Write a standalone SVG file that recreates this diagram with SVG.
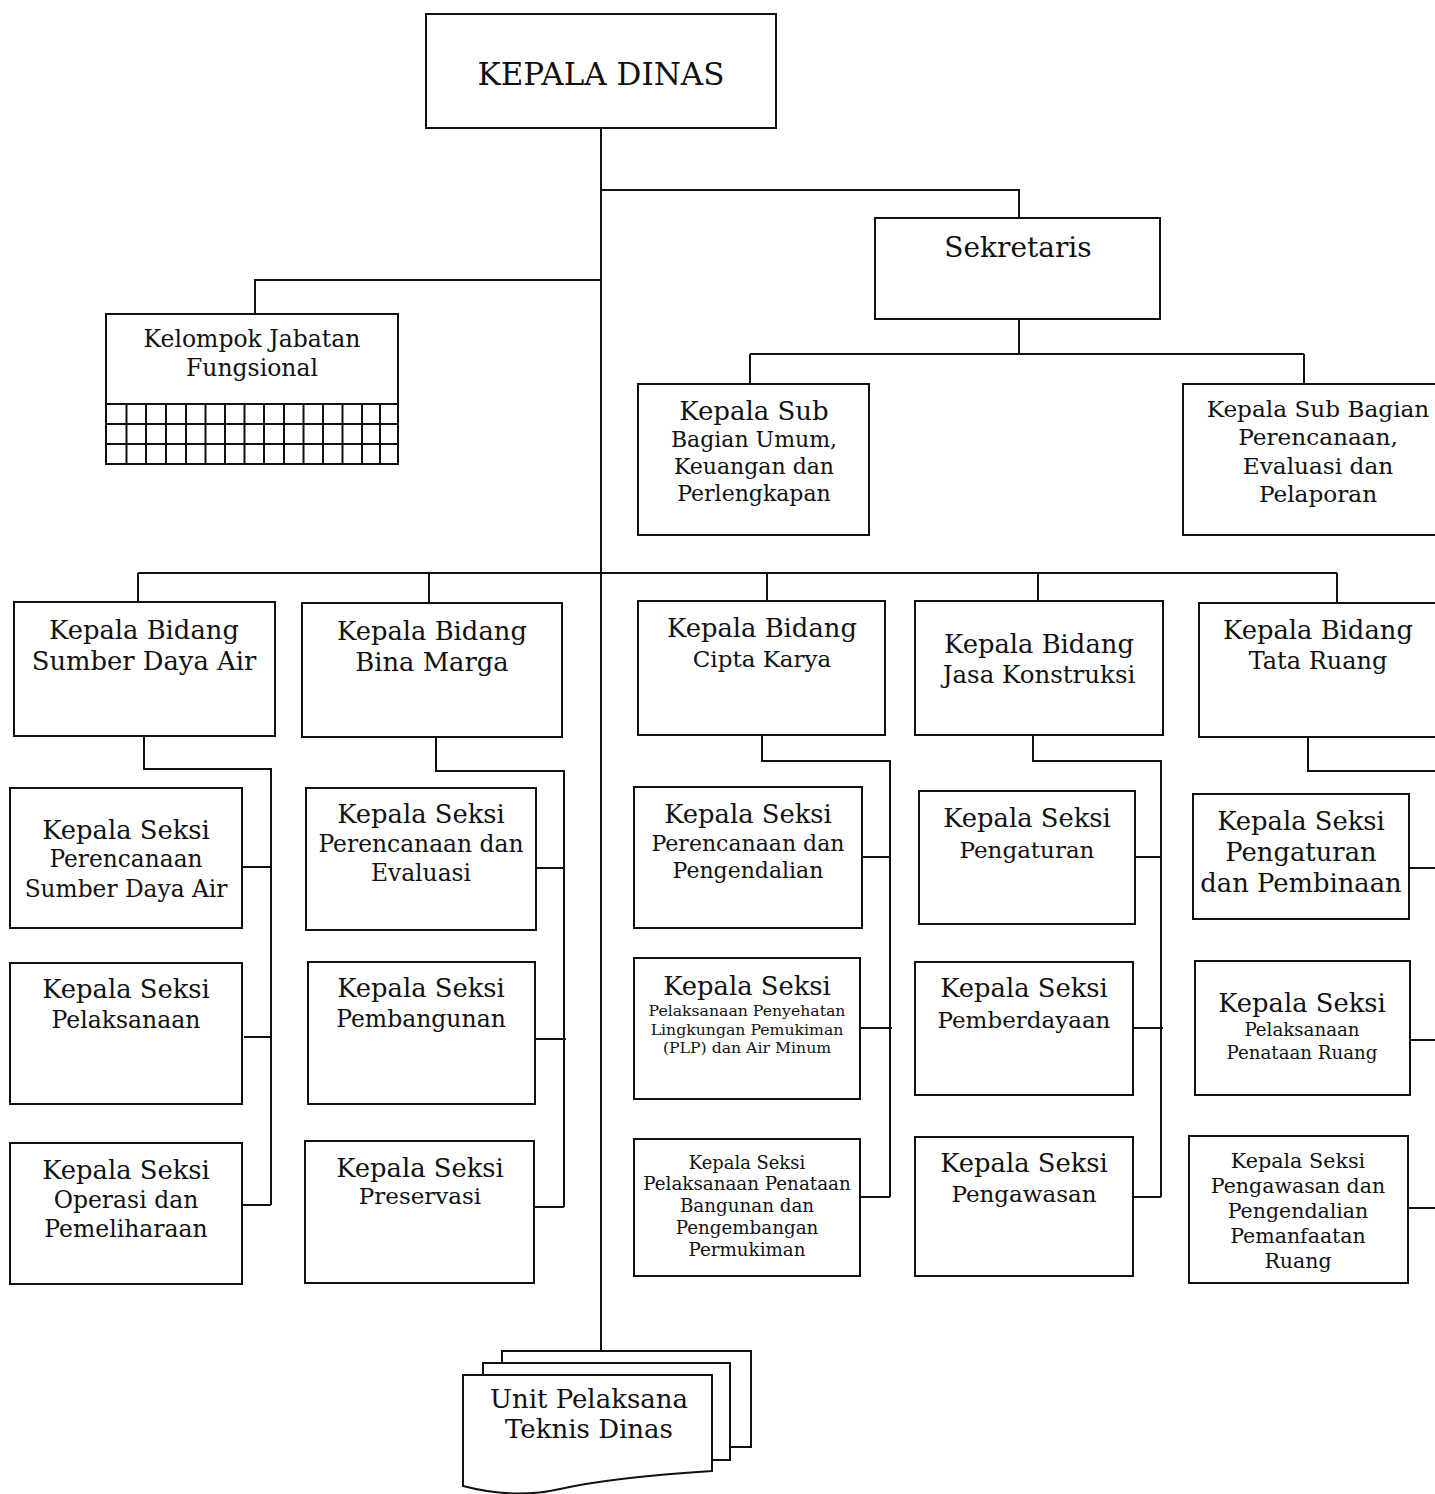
<svg xmlns="http://www.w3.org/2000/svg" width="1435" height="1494" viewBox="0 0 1435 1494">
<style>
rect,.doc{fill:#fff;stroke:#111;stroke-width:2}
#connectors path{fill:none;stroke:#111;stroke-width:2}
.grid{fill:none;stroke:#111;stroke-width:2}
text{font-family:"DejaVu Serif","Liberation Serif",serif;fill:#111;text-anchor:middle}
</style>
<rect x="0" y="0" width="1435" height="1494" style="stroke:none"/>
<g id="connectors">
<path d="M601,128 V1351"/>
<path d="M600,190 H1019 V218"/>
<path d="M600,280 H255 V314"/>
<path d="M1019,319 V354 M750,354 H1304 M750,354 V384 M1304,354 V384"/>
<path d="M138,573 H1337 M138,573 V602 M429,573 V603 M767,573 V601 M1038,573 V601 M1337,573 V603"/>
<path d="M144,736 V769 H271 V1205 M242,867 H271 M244,1037 H272 M241,1205 H271"/>
<path d="M436,737 V771 H564 V1207 M536,868 H564 M536,1039 H566 M534,1207 H564"/>
<path d="M762,735 V761 H890 V1197 M862,857 H890 M860,1028 H892 M860,1197 H890"/>
<path d="M1033,735 V761 H1161 V1197 M1135,857 H1161 M1133,1028 H1163 M1130,1197 H1161"/>
<path d="M1308,737 V771 H1437 M1409,868 H1437 M1410,1040 H1437 M1408,1208 H1437"/>
</g>
<g id="kepala-dinas"><rect x="426" y="14" width="350" height="114"/><text x="601" y="85" font-size="31">KEPALA DINAS</text></g>
<g id="sekretaris"><rect x="875" y="218" width="285" height="101"/><text x="1018" y="257" font-size="28">Sekretaris</text></g>
<g id="kelompok-jabatan">
<rect x="106" y="314" width="292" height="150"/>
<text x="252" y="347" font-size="23.5">Kelompok Jabatan</text>
<text x="252" y="376" font-size="23.5">Fungsional</text>
<path class="grid" d="M106,404 H398 M106,424 H398 M106,444 H398 M126.5,404 V464 M146,404 V464 M166,404 V464 M186,404 V464 M205.5,404 V464 M225,404 V464 M244.5,404 V464 M264,404 V464 M284,404 V464 M303.5,404 V464 M323,404 V464 M342.5,404 V464 M362,404 V464 M380,404 V464"/>
</g>
<g id="subbag-umum"><rect x="638" y="384" width="231" height="151"/>
<text x="754" y="420" font-size="26">Kepala Sub</text>
<text x="754" y="447" font-size="22">Bagian Umum,</text>
<text x="754" y="474" font-size="22">Keuangan dan</text>
<text x="754" y="501" font-size="22">Perlengkapan</text></g>
<g id="subbag-perencanaan"><rect x="1183" y="384" width="256" height="151"/>
<text x="1318" y="417" font-size="23.2">Kepala Sub Bagian</text>
<text x="1318" y="445" font-size="23.2">Perencanaan,</text>
<text x="1318" y="474" font-size="23.2">Evaluasi dan</text>
<text x="1318" y="502" font-size="23.2">Pelaporan</text></g>
<g id="bidang-sda"><rect x="14" y="602" width="261" height="134"/>
<text x="144" y="639" font-size="25.8">Kepala Bidang</text><text x="144" y="670" font-size="25.8">Sumber Daya Air</text></g>
<g id="bidang-bm"><rect x="302" y="603" width="260" height="134"/>
<text x="432" y="640" font-size="25.8">Kepala Bidang</text><text x="432" y="671" font-size="25.8">Bina Marga</text></g>
<g id="bidang-ck"><rect x="638" y="601" width="247" height="134"/>
<text x="762" y="637" font-size="25.8">Kepala Bidang</text><text x="762" y="667" font-size="23">Cipta Karya</text></g>
<g id="bidang-jk"><rect x="915" y="601" width="248" height="134"/>
<text x="1039" y="653" font-size="25.8">Kepala Bidang</text><text x="1039" y="683" font-size="24.5">Jasa Konstruksi</text></g>
<g id="bidang-tr"><rect x="1199" y="603" width="240" height="134"/>
<text x="1318" y="639" font-size="25.8">Kepala Bidang</text><text x="1318" y="669" font-size="24">Tata Ruang</text></g>
<g id="seksi-sda-1"><rect x="10" y="788" width="232" height="140"/>
<text x="126" y="839" font-size="25.8">Kepala Seksi</text><text x="126" y="867" font-size="23.3">Perencanaan</text><text x="126" y="897" font-size="23.3">Sumber Daya Air</text></g>
<g id="seksi-sda-2"><rect x="10" y="963" width="232" height="141"/>
<text x="126" y="998" font-size="25.8">Kepala Seksi</text><text x="126" y="1028" font-size="23.5">Pelaksanaan</text></g>
<g id="seksi-sda-3"><rect x="10" y="1143" width="232" height="141"/>
<text x="126" y="1179" font-size="25.8">Kepala Seksi</text><text x="126" y="1208" font-size="23.5">Operasi dan</text><text x="126" y="1237" font-size="23.5">Pemeliharaan</text></g>
<g id="seksi-bm-1"><rect x="306" y="788" width="230" height="142"/>
<text x="421" y="823" font-size="25.8">Kepala Seksi</text><text x="421" y="852" font-size="23.4">Perencanaan dan</text><text x="421" y="881" font-size="23.4">Evaluasi</text></g>
<g id="seksi-bm-2"><rect x="308" y="962" width="227" height="142"/>
<text x="421" y="997" font-size="25.8">Kepala Seksi</text><text x="421" y="1027" font-size="23.5">Pembangunan</text></g>
<g id="seksi-bm-3"><rect x="305" y="1141" width="229" height="142"/>
<text x="420" y="1177" font-size="25.8">Kepala Seksi</text><text x="420" y="1204" font-size="23">Preservasi</text></g>
<g id="seksi-ck-1"><rect x="634" y="787" width="228" height="141"/>
<text x="748" y="823" font-size="25.8">Kepala Seksi</text><text x="748" y="851" font-size="22">Perencanaan dan</text><text x="748" y="878" font-size="22">Pengendalian</text></g>
<g id="seksi-ck-2"><rect x="634" y="958" width="226" height="141"/>
<text x="747" y="995" font-size="25.8">Kepala Seksi</text><text x="747" y="1016" font-size="15.7">Pelaksanaan Penyehatan</text><text x="747" y="1035" font-size="15.7">Lingkungan Pemukiman</text><text x="747" y="1053" font-size="15.7">(PLP) dan Air Minum</text></g>
<g id="seksi-ck-3"><rect x="634" y="1139" width="226" height="137"/>
<text x="747" y="1169" font-size="17.9">Kepala Seksi</text><text x="747" y="1190" font-size="18.3">Pelaksanaan Penataan</text><text x="747" y="1212" font-size="18.3">Bangunan dan</text><text x="747" y="1234" font-size="18.3">Pengembangan</text><text x="747" y="1256" font-size="18.3">Permukiman</text></g>
<g id="seksi-jk-1"><rect x="919" y="791" width="216" height="133"/>
<text x="1027" y="827" font-size="25.8">Kepala Seksi</text><text x="1027" y="858" font-size="23">Pengaturan</text></g>
<g id="seksi-jk-2"><rect x="915" y="962" width="218" height="133"/>
<text x="1024" y="997" font-size="25.8">Kepala Seksi</text><text x="1024" y="1028" font-size="23">Pemberdayaan</text></g>
<g id="seksi-jk-3"><rect x="915" y="1137" width="218" height="139"/>
<text x="1024" y="1172" font-size="25.8">Kepala Seksi</text><text x="1024" y="1202" font-size="23">Pengawasan</text></g>
<g id="seksi-tr-1"><rect x="1193" y="794" width="216" height="125"/>
<text x="1301" y="830" font-size="25.8">Kepala Seksi</text><text x="1301" y="861" font-size="25.8">Pengaturan</text><text x="1301" y="892" font-size="25.8">dan Pembinaan</text></g>
<g id="seksi-tr-2"><rect x="1195" y="961" width="215" height="134"/>
<text x="1302" y="1012" font-size="25.8">Kepala Seksi</text><text x="1302" y="1036" font-size="18.2">Pelaksanaan</text><text x="1302" y="1059" font-size="18.2">Penataan Ruang</text></g>
<g id="seksi-tr-3"><rect x="1189" y="1136" width="219" height="147"/>
<text x="1298" y="1168" font-size="20.7">Kepala Seksi</text><text x="1298" y="1193" font-size="20.5">Pengawasan dan</text><text x="1298" y="1218" font-size="20.5">Pengendalian</text><text x="1298" y="1243" font-size="20.5">Pemanfaatan</text><text x="1298" y="1268" font-size="20.5">Ruang</text></g>
<g id="upt">
<rect x="502" y="1351" width="249" height="96"/>
<rect x="483" y="1363" width="247" height="97"/>
<path class="doc" d="M463,1375 H712 V1471 C650,1475 600,1480 560,1489 C525,1497 490,1493 463,1486 Z"/>
<text x="589" y="1408" font-size="26">Unit Pelaksana</text>
<text x="589" y="1438" font-size="26">Teknis Dinas</text>
</g>
</svg>
